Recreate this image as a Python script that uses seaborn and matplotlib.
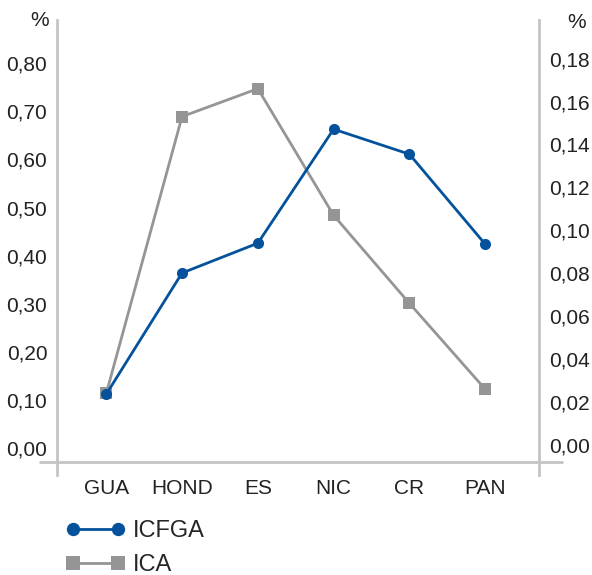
import numpy as np
import pandas as pd
import matplotlib
matplotlib.use('Agg')
import matplotlib.pyplot as plt
import seaborn as sns

# data
countries = ['GUA', 'HOND', 'ES', 'NIC', 'CR', 'PAN']
icfga = [0.112, 0.364, 0.426, 0.663, 0.611, 0.424]   # left axis, %
ica = [0.024, 0.153, 0.166, 0.107, 0.066, 0.026]     # right axis, %
left_ticks = [0.0, 0.1, 0.2, 0.3, 0.4, 0.5, 0.6, 0.7, 0.8]
right_ticks = [0.0, 0.02, 0.04, 0.06, 0.08, 0.10, 0.12, 0.14, 0.16, 0.18]

df = pd.DataFrame({'pos': np.arange(len(countries)), 'ICFGA': icfga, 'ICA': ica})

sns.set_style('white')
plt.rcParams['font.family'] = ['Liberation Sans', 'DejaVu Sans']

blue = '#04529c'
grey = '#959595'
axis_grey = '#c4c4c4'
txt = '#222222'
fs = 15

fig = plt.figure(figsize=(5.92, 5.75), dpi=100)
ax = fig.add_axes([57 / 592, 1 - 475 / 575, 482 / 592, 455 / 575])
ax2 = ax.twinx()
# keep the blue series on top of the grey one
ax.set_zorder(ax2.get_zorder() + 1)
ax.patch.set_visible(False)

sns.lineplot(data=df, x='pos', y='ICFGA', ax=ax, color=blue, marker='o',
             markersize=8, markeredgewidth=0, linewidth=2, label='ICFGA', legend=False)
sns.lineplot(data=df, x='pos', y='ICA', ax=ax2, color=grey, marker='s',
             markersize=8, markeredgewidth=0, linewidth=2, label='ICA', legend=False)

ax.set_xlim(-0.65, 5.71)
ax.set_ylim(-0.056, 0.890)
ax2.set_ylim(-0.014, 0.198)

ax.set_yticks(left_ticks)
ax.set_yticklabels([f'{v:.2f}'.replace('.', ',') for v in left_ticks], fontsize=fs, color=txt)
ax2.set_yticks(right_ticks)
ax2.set_yticklabels([f'{v:.2f}'.replace('.', ',') for v in right_ticks], fontsize=fs, color=txt)
ax.set_xticks(df['pos'])
ax.set_xticklabels(countries, fontsize=fs, color=txt)
ax.tick_params(axis='x', length=0, pad=3)
ax.tick_params(axis='y', length=0, pad=7)
ax2.tick_params(axis='y', length=0, pad=7)
ax.set_xlabel('')
ax.set_ylabel('')
ax2.set_ylabel('')
ax.grid(False)
ax2.grid(False)

for a in (ax, ax2):
    for s in a.spines.values():
        s.set_visible(False)
ax.spines['left'].set_visible(True)
ax.spines['left'].set_color(axis_grey)
ax.spines['left'].set_linewidth(2)
ax2.spines['right'].set_visible(True)
ax2.spines['right'].set_color(axis_grey)
ax2.spines['right'].set_linewidth(2)

# horizontal base line crossing both vertical axes
ax.plot([-0.035, 1.048], [0.0286, 0.0286], transform=ax.transAxes,
        color=axis_grey, linewidth=2, clip_on=False, zorder=0)

fig.text(40 / 592, 1 - 20 / 575, '%', fontsize=fs, ha='center', va='center', color=txt)
fig.text(577 / 592, 1 - 22 / 575, '%', fontsize=fs, ha='center', va='center', color=txt)

handles = [ax.lines[0], ax2.lines[0]]
fig.legend(handles, ['ICFGA', 'ICA'], loc='upper left', bbox_to_anchor=(66 / 592, 1 - 520 / 575),
           frameon=False, fontsize=17, numpoints=2, handlelength=2.5, handletextpad=0.35,
           labelspacing=0.5, borderpad=0, borderaxespad=0, markerscale=1.2)

fig.savefig('out.png', dpi=100)
